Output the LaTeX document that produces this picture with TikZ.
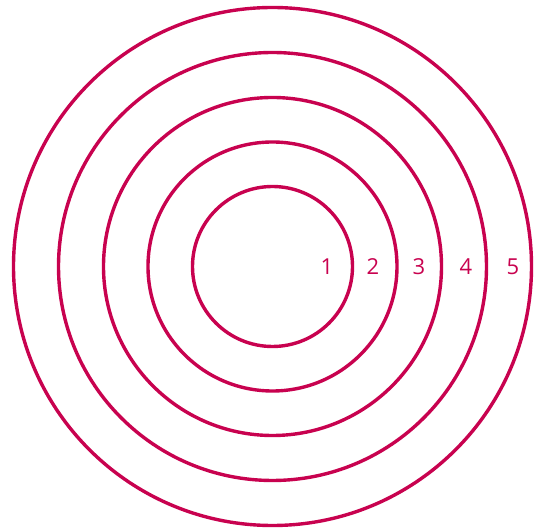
\documentclass[tikz,border=0pt]{standalone}
\usepackage{fontspec}
\setmainfont{Open Sans}
\definecolor{ring}{HTML}{C8024F}
\begin{document}
\begin{tikzpicture}[x=1pt,y=1pt,
  ringline/.style={draw=ring,line width=3.4pt},
  lbl/.style={text=ring,font=\fontsize{22}{24}\selectfont,inner sep=0pt}]
\useasboundingbox (0,0) rectangle (542,530);
\coordinate (c) at (272.5,263.5);
\foreach \r in {80,124.5,169,214,259}{
  \draw[ringline] (c) circle[radius=\r];
}
\node[lbl] (l1) at ([xshift=54.5pt]c) {1};
\node[lbl] (l2) at ([xshift=100.5pt]c) {2};
\node[lbl] (l3) at ([xshift=146.5pt]c) {3};
\node[lbl] (l4) at ([xshift=193.5pt]c) {4};
\node[lbl] (l5) at ([xshift=240.5pt]c) {5};
\end{tikzpicture}
\end{document}
